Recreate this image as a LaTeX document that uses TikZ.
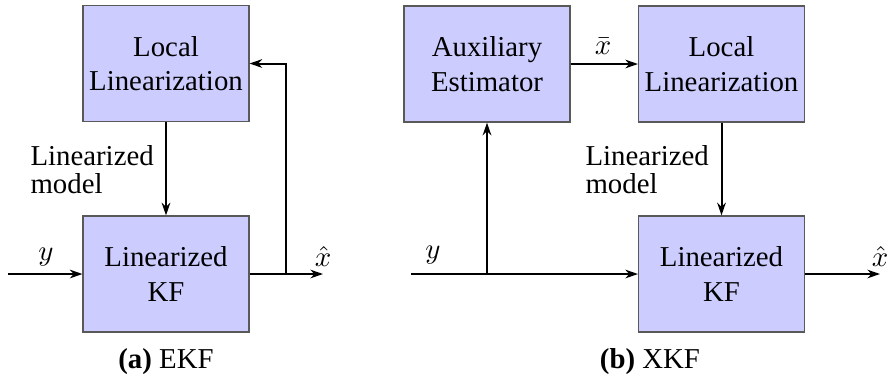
\documentclass[tikz,border=0pt]{standalone}
\usepackage{fontspec}
\setmainfont{Liberation Serif}
\usetikzlibrary{arrows.meta}
\begin{document}
\begin{tikzpicture}[x=0.3472pt,y=-0.3472pt,
  blk/.style={draw=black!65, fill=blue!20, line width=0.4pt, minimum width=57.6pt, minimum height=40.3pt, inner sep=0pt, align=center, font=\fontsize{10}{12}\selectfont},
  conn/.style={line width=0.7pt, -{Stealth[length=4.4pt,width=3pt]}},
  lbl/.style={inner sep=0pt, font=\fontsize{10}{12}\selectfont},
  mlbl/.style={inner sep=0pt, align=left, anchor=north west, font=\fontsize{10}{9.7}\selectfont}]
\useasboundingbox (0,0) rectangle (888,379);
% ---- (a) EKF ----
\node[blk] (ll1) at (166,63.5) {Local\\Linearization};
\node[blk] (kf1) at (166,274) {Linearized\\KF};
\coordinate (in1) at (8,274);
\coordinate (out1) at (323,274);
\coordinate (fb1) at (286,274);
\draw[conn] (in1) -- (kf1.west);
\draw[conn] (kf1.east) -- (out1);
\draw[conn] (fb1) |- (ll1.east);
\draw[conn] (ll1.south) -- (kf1.north);
\node[lbl] (y1) at (46,257) {$y$};
\node[lbl] (xh1) at (323,256) {$\hat{x}$};
\node[mlbl] (lm1) at (30,145) {Linearized\\model};
\node[lbl] (cap1) at (166,362) {\textbf{(a)} EKF};
% ---- (b) XKF ----
\node[blk] (ae2) at (487,64) {Auxiliary\\Estimator};
\node[blk] (ll2) at (721.5,64) {Local\\Linearization};
\node[blk] (kf2) at (721.5,274) {Linearized\\KF};
\coordinate (in2) at (411,274);
\coordinate (br2) at (487,274);
\coordinate (out2) at (880,274);
\draw[conn] (in2) -- (kf2.west);
\draw[conn] (br2) -- (ae2.south);
\draw[conn] (ae2.east) -- (ll2.west);
\draw[conn] (ll2.south) -- (kf2.north);
\draw[conn] (kf2.east) -- (out2);
\node[lbl] (y2) at (433,255) {$y$};
\node[lbl] (xb2) at (603,46) {$\bar{x}$};
\node[lbl] (xh2) at (880,256) {$\hat{x}$};
\node[mlbl] (lm2) at (585,145) {Linearized\\model};
\node[lbl] (cap2) at (650,362) {\textbf{(b)} XKF};
\end{tikzpicture}
\end{document}
